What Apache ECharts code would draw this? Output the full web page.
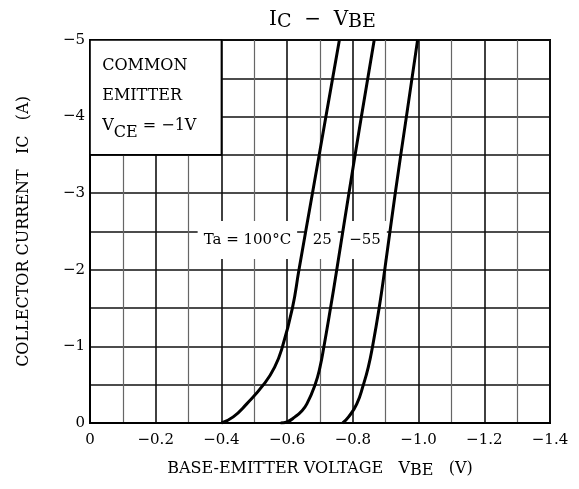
<!DOCTYPE html>
<html><head><meta charset="utf-8">
<script src="https://cdn.jsdelivr.net/npm/echarts@6/dist/echarts.min.js"></script>
<style>html,body{margin:0;padding:0;background:#fff}#c{width:579px;height:489px}</style>
</head><body><div id="c"></div>
<script>
// ---- data ----
const v100 = [-0.40,-0.436,-0.477,-0.528,-0.562,-0.586,-0.616,-0.636,-0.677,-0.718,-0.759];
const i100 = [0,-0.08,-0.25,-0.5,-0.73,-1.0,-1.5,-2,-3,-4,-5];
const v25 = [-0.58,-0.60,-0.624,-0.643,-0.660,-0.685,-0.700,-0.712,-0.732,-0.751,-0.788,-0.826,-0.865];
const i25 = [0,-0.015,-0.08,-0.15,-0.25,-0.5,-0.73,-1.0,-1.5,-2,-3,-4,-5];
const vm55 = [-0.769,-0.787,-0.812,-0.832,-0.847,-0.860,-0.880,-0.897,-0.929,-0.963,-0.997];
const im55 = [0,-0.08,-0.25,-0.5,-0.73,-1.0,-1.5,-2,-3,-4,-5];
const tempLabels = ['Ta = 100°C', '25', '\u221255'];
const labelV = [-0.479, -0.707, -0.837];
const labelI = [-2.39, -2.39, -2.39];
const xMin = -1.4, xMax = 0, xStep = 0.2;
const yMin = -5, yMax = 0, yStep = 1;

const FONT = 'DejaVu Serif';
const pairs = (xs, ys) => xs.map((x, k) => [x, ys[k]]);

const chart = echarts.init(document.getElementById('c'), null, {renderer: 'canvas'});
const curveStyle = {type: 'line', smooth: 0.5, symbol: 'none', z: 5,
  lineStyle: {color: '#000', width: 3}, silent: true};

chart.setOption({
  animation: false,
  backgroundColor: '#fff',
  textStyle: {fontFamily: FONT, color: '#000'},
  title: {
    left: 264, top: 5,
    text: '{m|I}{s|C}{m|  \u2212  V}{s|BE}',
    textStyle: {
      fontWeight: 'normal',
      rich: {
        m: {fontFamily: FONT, fontSize: 20, fontWeight: 'normal', color: '#000', lineHeight: 22, verticalAlign: 'top'},
        s: {fontFamily: FONT, fontSize: 19, fontWeight: 'normal', color: '#000', lineHeight: 22, verticalAlign: 'bottom'}
      }
    }
  },
  grid: {left: 90, right: 29, top: 40, bottom: 66, show: true, borderColor: '#000', borderWidth: 2},
  xAxis: {
    type: 'value', min: xMin, max: xMax, interval: xStep, inverse: true,
    name: '{m|BASE-EMITTER VOLTAGE   V}{s|BE}{m|   (V)}',
    nameLocation: 'middle', nameGap: 30,
    nameTextStyle: {rich: {
      m: {fontFamily: FONT, fontSize: 16, color: '#000', lineHeight: 18, verticalAlign: 'top'},
      s: {fontFamily: FONT, fontSize: 16, color: '#000', lineHeight: 18, verticalAlign: 'bottom', padding: [10, 0, 0, 0]}
    }},
    axisLine: {show: true, lineStyle: {color: '#000', width: 2}},
    axisTick: {show: false},
    axisLabel: {fontFamily: FONT, fontSize: 15, color: '#000', margin: 10,
      formatter: v => (Math.abs(v) < 1e-9 ? '0' : '\u2212' + Math.abs(v).toFixed(1))},
    splitLine: {show: true, lineStyle: {color: '#111', width: 1.6}},
    minorTick: {show: false, splitNumber: 2},
    minorSplitLine: {show: true, lineStyle: {color: '#666', width: 1.2}}
  },
  yAxis: {
    type: 'value', min: yMin, max: yMax, interval: yStep, inverse: true,
    name: 'COLLECTOR CURRENT   IC   (A)',
    nameLocation: 'middle', nameGap: 58,
    nameTextStyle: {fontFamily: FONT, fontSize: 16, color: '#000'},
    axisLine: {show: true, lineStyle: {color: '#000', width: 2}},
    axisTick: {show: false},
    axisLabel: {fontFamily: FONT, fontSize: 15, color: '#000', margin: 5,
      formatter: v => (Math.abs(v) < 1e-9 ? '0' : '\u2212' + Math.abs(v).toFixed(0))},
    splitLine: {show: true, lineStyle: {color: '#111', width: 1.6}},
    minorTick: {show: false, splitNumber: 2},
    minorSplitLine: {show: true, lineStyle: {color: '#111', width: 1.6}}
  },
  series: [
    {
      type: 'scatter', z: 2, silent: true, symbolSize: 0,
      itemStyle: {opacity: 1},
      data: tempLabels.map((t, k) => ({name: t, value: [labelV[k], labelI[k]]})),
      label: {show: true, position: 'inside', formatter: p => p.name,
        fontFamily: FONT, fontSize: 15, color: '#000', opacity: 1,
        backgroundColor: '#fff', padding: [11, 6], lineHeight: 16},
      markArea: {
        silent: true,
        itemStyle: {color: '#fff', opacity: 1, borderColor: '#000', borderWidth: 1.6},
        label: {show: true, position: 'insideTopLeft', distance: 0, padding: [12, 0, 0, 13],
          formatter: '{a|COMMON}\n{a|EMITTER}\n{a|V}{b|CE}{a| = \u22121V}',
          rich: {
            a: {fontFamily: FONT, fontSize: 16, color: '#000', lineHeight: 30},
            b: {fontFamily: FONT, fontSize: 16, color: '#000', lineHeight: 20, verticalAlign: 'bottom'}
          }},
        data: [[{coord: [0, -5]}, {coord: [-0.4, -3.5]}]]
      }
    },
    Object.assign({name: '100', data: pairs(v100, i100)}, curveStyle),
    Object.assign({name: '25', data: pairs(v25, i25)}, curveStyle),
    Object.assign({name: '-55', data: pairs(vm55, im55)}, curveStyle)
  ]
});
</script>
</body></html>
